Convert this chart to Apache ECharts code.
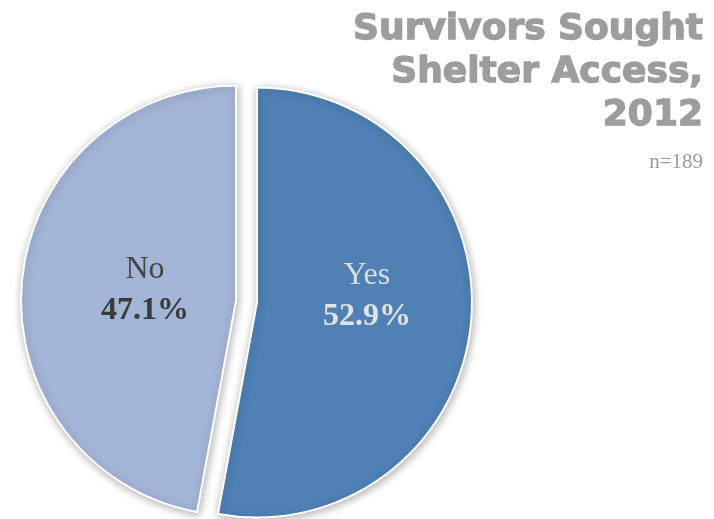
<!DOCTYPE html>
<html>
<head>
<meta charset="utf-8">
<script src="https://cdn.jsdelivr.net/npm/echarts@6/dist/echarts.min.js"></script>
<style>
html,body{margin:0;padding:0;background:#fff;}
#chart{width:714px;height:519px;}
</style>
</head>
<body>
<div id="chart"></div>
<script>
var categories = ['Yes', 'No'];
var percents = [52.9, 47.1];
var sliceColors = ['#4f81b5', '#a3b5d7'];
var labelNameColors = ['#dcdcdc', '#444444'];
var labelPctColors = ['#e2e2e2', '#3a3a3a'];
var titleLines = ['Survivors Sought', 'Shelter Access,', '2012'];
var sampleText = 'n=189';
var labelShift = [[0, -16], [19, 0]];

var chart = echarts.init(document.getElementById('chart'), null, {renderer: 'canvas'});

var data = categories.map(function (c, i) {
  return {
    name: c,
    value: percents[i],
    selected: true,
    itemStyle: {color: sliceColors[i]},
    label: {
      rich: {
        n: {fontFamily: 'Liberation Serif', fontSize: 32, color: labelNameColors[i], lineHeight: 41},
        p: {fontFamily: 'Liberation Serif', fontSize: 32, fontWeight: 'bold', color: labelPctColors[i], lineHeight: 41}
      }
    }
  };
});

var titleGraphics = titleLines.map(function (line, i) {
  return {
    type: 'text',
    x: 703,
    y: 12 + i * 43,
    style: {
      text: line,
      fontFamily: 'DejaVu Sans',
      fontWeight: 'bold',
      fontSize: 36,
      fill: '#9d9d9d',
      stroke: '#9d9d9d',
      lineWidth: 1.3,
      align: 'right',
      verticalAlign: 'top'
    }
  };
});
titleGraphics.push({
  type: 'text',
  x: 703,
  y: 152,
  style: {
    text: sampleText,
    fontFamily: 'Liberation Serif',
    fontSize: 21,
    fill: '#9a9a9a',
    align: 'right',
    verticalAlign: 'top'
  }
});

var option = {
  backgroundColor: '#ffffff',
  animation: false,
  graphic: titleGraphics,
  series: [{
    type: 'pie',
    center: [246.5, 301.5],
    radius: 215,
    startAngle: 90,
    clockwise: true,
    selectedMode: 'multiple',
    selectedOffset: 10.5,
    emphasis: {disabled: true},
    itemStyle: {
      borderColor: '#ffffff',
      borderWidth: 2,
      shadowBlur: 8,
      shadowColor: 'rgba(0,0,0,0.3)',
      shadowOffsetX: 1,
      shadowOffsetY: 2
    },
    label: {
      show: true,
      position: 'inside',
      formatter: function (p) {
        return '{n|' + p.name + '}\n{p|' + p.value.toFixed(1) + '%}';
      }
    },
    labelLayout: function (params) {
      var s = labelShift[params.dataIndex];
      return {dx: s[0], dy: s[1]};
    },
    labelLine: {show: false},
    data: data
  }]
};
chart.setOption(option);
</script>
</body>
</html>
